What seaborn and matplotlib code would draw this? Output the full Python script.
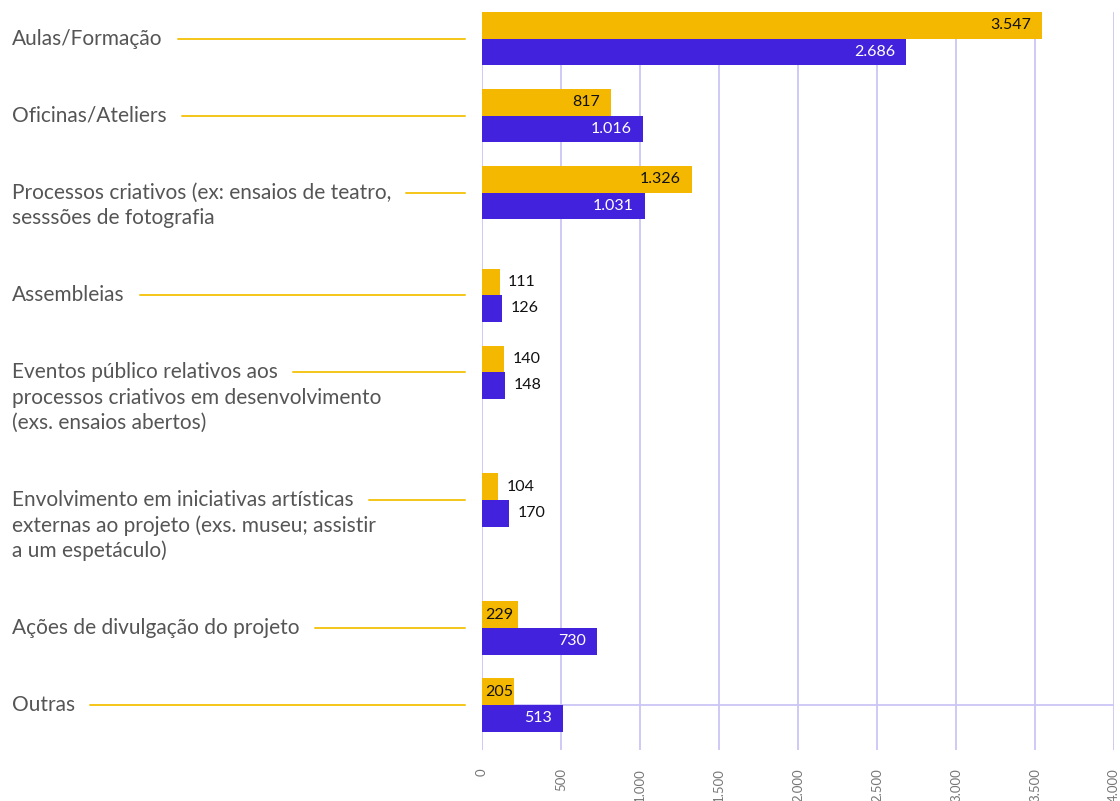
import numpy as np
import pandas as pd
import matplotlib
matplotlib.use("Agg")
import matplotlib.pyplot as plt
import matplotlib.transforms as mtransforms
from matplotlib.ticker import FuncFormatter
import seaborn as sns

# dados
categorias = [
    "Aulas/Formação",
    "Oficinas/Ateliers",
    "Processos criativos (ex: ensaios de teatro,\nsesssões de fotografia",
    "Assembleias",
    "Eventos público relativos aos\nprocessos criativos em desenvolvimento\n(exs. ensaios abertos)",
    "Envolvimento em iniciativas artísticas\nexternas ao projeto (exs. museu; assistir\na um espetáculo)",
    "Ações de divulgação do projeto",
    "Outras",
]
serie_1 = [3547, 817, 1326, 111, 140, 104, 229, 205]
serie_2 = [2686, 1016, 1031, 126, 148, 170, 730, 513]
xticks = np.arange(0, 4001, 500)

amarelo = "#F5B800"
roxo = "#4322DD"
grelha = "#CBC5F6"

# posições das linhas: cada linha extra do rótulo empurra a seguinte
extra = 0.33
linhas = [c.count("\n") + 1 for c in categorias]
pos = [0.0]
for n in linhas[:-1]:
    pos.append(pos[-1] + 1 + (n - 1) * extra)

df = pd.DataFrame({
    "pos": pos * 2,
    "valor": serie_1 + serie_2,
    "serie": ["serie_1"] * len(pos) + ["serie_2"] * len(pos),
})

sns.set_style("white")
plt.rcParams["font.family"] = ["Lato", "DejaVu Sans"]

fig = plt.figure(figsize=(11.2, 8.01), dpi=100)
W, H = 1120, 801
ax = fig.add_axes([482 / W, 1 - 750 / H, 632 / W, 738 / H])

sns.barplot(data=df, x="valor", y="pos", hue="serie", orient="y",
            native_scale=True, hue_order=["serie_1", "serie_2"],
            palette=[amarelo, roxo], width=0.69, gap=0, saturation=1,
            linewidth=0, edgecolor="none", legend=False, ax=ax)

ax.set_xlim(0, 4000)
ax.set_ylim(pos[-1] + 0.584, -0.344)
ax.set_xticks(xticks)
ax.xaxis.set_major_formatter(FuncFormatter(lambda v, p: f"{int(v):,}".replace(",", ".")))
ax.tick_params(axis="x", length=0, pad=13, labelsize=9.5, labelcolor="#777777", labelrotation=90)
ax.set_yticks([])
ax.set_xlabel("")
ax.set_ylabel("")
for s in ax.spines.values():
    s.set_visible(False)
ax.grid(axis="x", color=grelha, lw=1.3)
ax.set_axisbelow(True)
ax.axhline(pos[-1], color=grelha, lw=1.3, zorder=0)

# rótulos dos valores
for cont, cor_in in [(ax.containers[0], "#111111"), (ax.containers[1], "white")]:
    for bar in cont.patches:
        v = bar.get_width()
        yc = bar.get_y() + bar.get_height() / 2
        txt = f"{int(round(v)):,}".replace(",", ".")
        if v < 200:
            ax.annotate(txt, (v, yc), xytext=(6, 0), textcoords="offset points",
                        ha="left", va="center", fontsize=11.5, color="#111111")
        elif v < 300 and cor_in != "white":
            ax.annotate(txt, (0, yc), xytext=(2, 0), textcoords="offset points",
                        ha="left", va="center", fontsize=11.5, color=cor_in)
        else:
            ax.annotate(txt, (v, yc), xytext=(-8, 0), textcoords="offset points",
                        ha="right", va="center", fontsize=11.5, color=cor_in)

# rótulos das categorias com linha de ligação
trans = mtransforms.blended_transform_factory(fig.transFigure, ax.transData)
renderer = fig.canvas.get_renderer()
for cat, p in zip(categorias, pos):
    partes = cat.split("\n")
    primeira = None
    for k, parte in enumerate(partes):
        t = fig.text(12 / W, p + k * extra, parte, transform=trans, ha="left",
                     va="center", fontsize=15, color="#555555")
        if k == 0:
            primeira = t
    bb = primeira.get_window_extent(renderer)
    x0 = (bb.x1 + 15) / W
    fig.add_artist(plt.Line2D([x0, 465 / W], [p, p], transform=trans,
                              color="#F5C518", lw=1.4))

plt.savefig("out.png", dpi=100)
